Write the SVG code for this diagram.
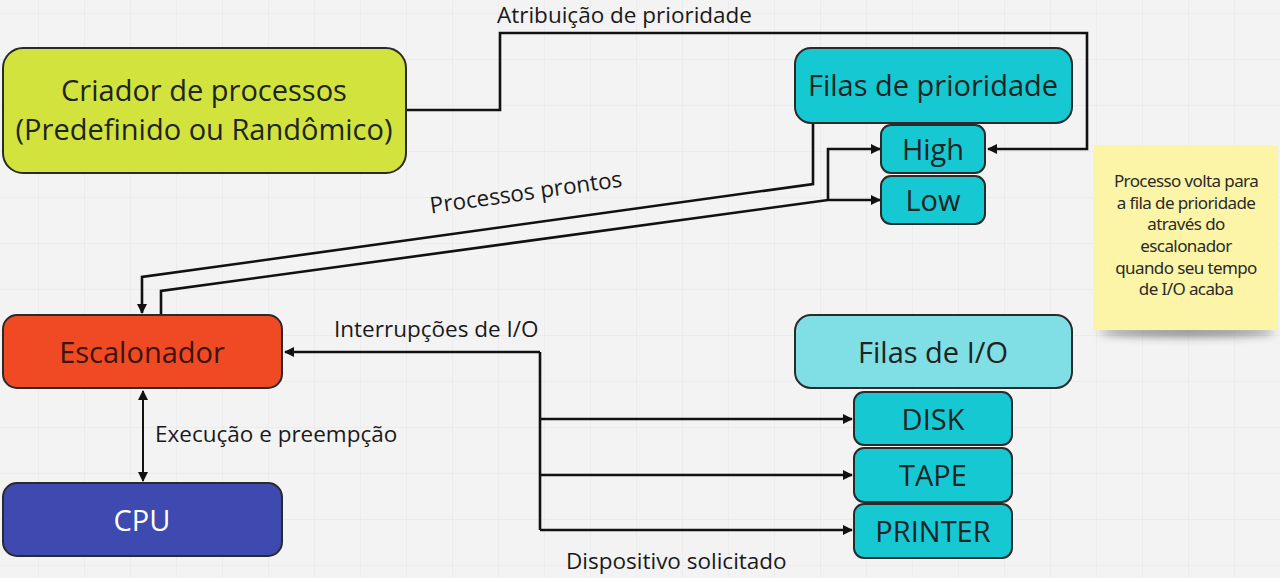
<svg xmlns="http://www.w3.org/2000/svg" width="1280" height="578" viewBox="0 0 1280 578">
<defs>
<pattern id="grid" x="38" y="13" width="46" height="46" patternUnits="userSpaceOnUse">
<path d="M0 0H46M0 0V46" fill="none" stroke="#e6e6e6" stroke-width="1"/>
</pattern>
<marker id="ah" viewBox="0 0 10 10" refX="9" refY="5" markerWidth="10" markerHeight="10" markerUnits="userSpaceOnUse" orient="auto-start-reverse">
<path d="M0 0L10 5L0 10z" fill="#111"/>
</marker>
<filter id="blur" x="-20%" y="-100%" width="140%" height="300%">
<feGaussianBlur stdDeviation="4"/>
</filter>
<style>
.box{stroke:#2a2a2a;stroke-width:2}
.t{font-family:"Open Sans","Noto Sans",sans-serif;font-size:29px;text-anchor:middle;dominant-baseline:central;fill:#1e2424}
.lbl{font-family:"Open Sans","Noto Sans",sans-serif;font-size:22.5px;fill:#1a1a1a}
.note{font-family:"Noto Sans","Open Sans",sans-serif;font-size:17px;text-anchor:middle;fill:#2a2a2a;letter-spacing:-0.6px}
.c{fill:none;stroke:#111;stroke-width:2.6}
.arr{marker-end:url(#ah)}
</style>
</defs>
<rect width="1280" height="578" fill="#f3f3f3"/>
<rect width="1280" height="578" fill="url(#grid)"/>

<g id="connectors">
<path class="c arr" d="M406 110H500V33H1087V149H988"/>
<path class="c arr" d="M813 123V184L142 277V313"/>
<path class="c arr" d="M161 315V291L828 200H880"/>
<path class="c arr" d="M828 200V149H880"/>
<path class="c arr" d="M540 352H285"/>
<path class="c" d="M540 352V530"/>
<path class="c arr" d="M540 419H852"/>
<path class="c arr" d="M540 475H852"/>
<path class="c arr" d="M540 530H852"/>
<path class="c" style="stroke-width:2;marker-start:url(#ah);marker-end:url(#ah)" d="M143 391V481"/>
<text class="lbl" x="497" y="23">Atribuição de prioridade</text>
<text class="lbl" x="527" y="200" text-anchor="middle" transform="rotate(-8 527 200)">Processos prontos</text>
<text class="lbl" x="334" y="337">Interrupções de I/O</text>
<text class="lbl" x="155" y="442">Execução e preempção</text>
<text class="lbl" x="566" y="569">Dispositivo solicitado</text>
</g>

<g id="criador">
<rect class="box" x="3" y="48" width="403" height="125" rx="20" fill="#d1e33c"/>
<text class="t" x="204" y="89">Criador de processos</text>
<text class="t" x="204" y="128">(Predefinido ou Randômico)</text>
</g>

<g id="filas-prioridade">
<rect class="box" x="795" y="48" width="277" height="75" rx="16" fill="#16c8d2"/>
<text class="t" x="933" y="84">Filas de prioridade</text>
</g>

<g id="high">
<rect class="box" x="881" y="125" width="104" height="48" rx="10" fill="#16c8d2"/>
<text class="t" x="933" y="148">High</text>
</g>

<g id="low">
<rect class="box" x="881" y="176" width="104" height="48" rx="10" fill="#16c8d2"/>
<text class="t" x="933" y="199">Low</text>
</g>

<g id="nota">
<ellipse cx="1187" cy="332" rx="88" ry="5" fill="#333" opacity="0.55" filter="url(#blur)"/>
<rect x="1093" y="145" width="185" height="185" fill="#fcf4a6"/>
<text class="note" x="1186" y="187">Processo volta para</text>
<text class="note" x="1186" y="209">a fila de prioridade</text>
<text class="note" x="1186" y="230">através do</text>
<text class="note" x="1186" y="252">escalonador</text>
<text class="note" x="1186" y="274">quando seu tempo</text>
<text class="note" x="1186" y="295">de I/O acaba</text>
</g>

<g id="escalonador">
<rect class="box" x="3" y="315" width="279" height="73" rx="14" fill="#f04a24"/>
<text class="t" x="142" y="351" style="fill:#3a150b">Escalonador</text>
</g>

<g id="cpu">
<rect class="box" x="3" y="483" width="279" height="73" rx="14" fill="#3f4ab0"/>
<text class="t" x="142" y="519" style="fill:#ffffff">CPU</text>
</g>

<g id="filas-io">
<rect class="box" x="795" y="315" width="277" height="73" rx="16" fill="#7fdfe4"/>
<text class="t" x="933" y="351">Filas de I/O</text>
</g>

<g id="disk">
<rect class="box" x="854" y="392" width="158" height="53" rx="10" fill="#16c8d2"/>
<text class="t" x="933" y="418">DISK</text>
</g>

<g id="tape">
<rect class="box" x="854" y="448" width="158" height="54" rx="10" fill="#16c8d2"/>
<text class="t" x="933" y="474">TAPE</text>
</g>

<g id="printer">
<rect class="box" x="854" y="504" width="158" height="54" rx="10" fill="#16c8d2"/>
<text class="t" x="933" y="530">PRINTER</text>
</g>
</svg>
